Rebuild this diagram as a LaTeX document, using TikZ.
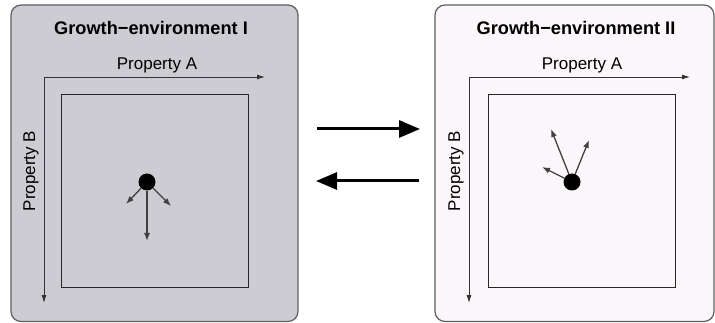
\documentclass[tikz,border=0pt]{standalone}
\usepackage{fontspec}
\setmainfont{Liberation Sans}
\usetikzlibrary{arrows.meta}
\definecolor{envgray}{RGB}{205,204,210}
\definecolor{envpink}{RGB}{250,246,250}
\definecolor{framegray}{RGB}{95,95,95}
\begin{document}
\begin{tikzpicture}[x=1pt, y=-1pt,
    panel/.style={draw=framegray, line width=1.2pt, rounded corners=10pt},
    axis/.style={draw=black!80, line width=0.9pt, -{Latex[length=8pt,width=5pt]}},
    space/.style={draw=black!85, line width=0.9pt, inner sep=0pt, minimum width=187pt, minimum height=193pt},
    drift/.style={draw=black!75, line width=1.3pt, -{Latex[length=8pt,width=6pt]}},
    switch/.style={line width=3pt, -{Triangle[length=21pt,width=17pt]}},
    cell/.style={circle, fill=black, inner sep=0pt, minimum size=17pt},
    title/.style={font=\bfseries\fontsize{18.2}{21}\selectfont},
    prop/.style={font=\fontsize{17}{20}\selectfont}]
    \useasboundingbox (0,0) rectangle (715,323);

    % Draw the two environments
    \draw[panel, fill=envgray] (11,5) rectangle (298,321.5);
    \draw[panel, fill=envpink] (435,5) rectangle (714,321.5);
    \node[title] (titleI) at (151,28) {Growth−environment I};
    \node[title] (titleII) at (576,28) {Growth−environment II};

    % Axes of environment I
    \coordinate (originI) at (44,77);
    \coordinate (endAI) at (265,77);
    \coordinate (endBI) at (44,303);
    \draw[axis] (originI) -- (endAI);
    \draw[axis] (originI) -- (endBI);
    \node[prop] (propAI) at (157,65) {Property A};
    \node[prop, rotate=90] (propBI) at (31,171) {Property B};
    \node[space] (spaceI) at (154.5,190.5) {};

    % Axes of environment II
    \coordinate (originII) at (469,77);
    \coordinate (endAII) at (690,77);
    \coordinate (endBII) at (469,303);
    \draw[axis] (originII) -- (endAII);
    \draw[axis] (originII) -- (endBII);
    \node[prop] (propAII) at (582,65) {Property A};
    \node[prop, rotate=90] (propBII) at (456,171) {Property B};
    \node[space] (spaceII) at (581.5,190.5) {};

    % Cell and its moves in environment I
    \node[cell] (cellI) at (147,182) {};
    \coordinate (downI) at (147,241);
    \coordinate (leftI) at (126,204);
    \coordinate (rightI) at (171,206);
    \draw[drift] (cellI) -- (downI);
    \draw[drift] (cellI) -- (leftI);
    \draw[drift] (cellI) -- (rightI);

    % Cell and its moves in environment II
    \node[cell] (cellII) at (572,182) {};
    \coordinate (upII) at (551,129);
    \coordinate (upRII) at (589,140);
    \coordinate (leftII) at (542,167);
    \draw[drift] (cellII) -- (upII);
    \draw[drift] (cellII) -- (upRII);
    \draw[drift] (cellII) -- (leftII);

    % Switch between environments
    \coordinate (fwdS) at (317,129);
    \coordinate (fwdE) at (420,129);
    \coordinate (backS) at (419,181);
    \coordinate (backE) at (316,181);
    \draw[switch] (fwdS) -- (fwdE);
    \draw[switch] (backS) -- (backE);
\end{tikzpicture}
\end{document}
